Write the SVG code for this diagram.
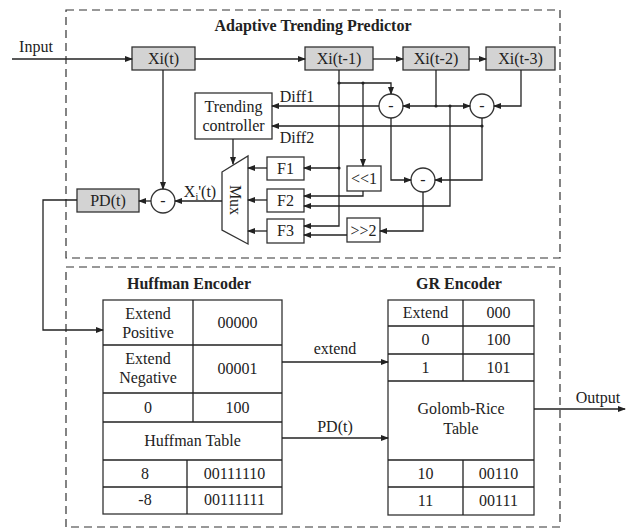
<svg xmlns="http://www.w3.org/2000/svg" width="636" height="529" viewBox="0 0 636 529" font-family="'Liberation Serif', 'Times New Roman', 'DejaVu Serif', serif">
<defs>
<marker id="ah" markerWidth="8" markerHeight="6" refX="7" refY="3" orient="auto" markerUnits="userSpaceOnUse">
<path d="M0,0 L8,3 L0,6 z" fill="#222"/>
</marker>
<style>
text{font-family:'Liberation Serif','Times New Roman','DejaVu Serif',serif}
.t{font-size:16px;fill:#222;text-anchor:middle}
.b{font-weight:bold}
.box{fill:#fff;stroke:#333;stroke-width:1.3}
.g{fill:#d3d3d3;stroke:#333;stroke-width:1.3}
.dash{fill:none;stroke:#333;stroke-width:1.2;stroke-dasharray:8 5}
.ln{fill:none;stroke:#222;stroke-width:1.3}
.ar{fill:none;stroke:#222;stroke-width:1.3;marker-end:url(#ah)}
.dot{fill:#222}
</style>
</defs>
<rect width="636" height="529" fill="#fff"/>
<g id="predictor-frame">
<rect class="dash" x="66" y="10" width="494" height="248"/>
<text class="t b" x="313" y="31">Adaptive Trending Predictor</text>
</g>
<g id="encoder-frame">
<rect class="dash" x="66" y="267" width="494" height="260"/>
</g>
<g id="xt"><rect class="g" x="132" y="47" width="63" height="23"/><text class="t" x="163.5" y="64">Xi(t)</text></g>
<g id="xt1"><rect class="g" x="305" y="47" width="68" height="23"/><text class="t" x="339" y="64">Xi(t-1)</text></g>
<g id="xt2"><rect class="g" x="403" y="47" width="66" height="23"/><text class="t" x="436" y="64">Xi(t-2)</text></g>
<g id="xt3"><rect class="g" x="486" y="47" width="69" height="23"/><text class="t" x="520.5" y="64">Xi(t-3)</text></g>
<g id="sub1"><circle class="box" cx="391" cy="106" r="12"/><text class="t" x="391" y="111">-</text></g>
<g id="sub2"><circle class="box" cx="482" cy="106" r="12"/><text class="t" x="482" y="111">-</text></g>
<g id="sub3"><circle class="box" cx="423" cy="180" r="12"/><text class="t" x="423" y="185">-</text></g>
<g id="sub0"><circle class="box" cx="163" cy="201" r="12"/><text class="t" x="163" y="206">-</text></g>
<g id="controller"><rect class="box" x="195" y="93" width="77" height="46"/><text class="t" x="233.5" y="112">Trending</text><text class="t" x="233.5" y="131">controller</text></g>
<g id="f1"><rect class="box" x="267" y="157" width="37" height="23"/><text class="t" x="285.5" y="174">F1</text></g>
<g id="f2"><rect class="box" x="267" y="189" width="37" height="23"/><text class="t" x="285.5" y="206">F2</text></g>
<g id="f3"><rect class="box" x="267" y="219" width="37" height="24"/><text class="t" x="285.5" y="236">F3</text></g>
<g id="shl"><rect class="box" x="347" y="166" width="34" height="25"/><text class="t" x="364" y="184">&lt;&lt;1</text></g>
<g id="shr"><rect class="box" x="347" y="218" width="33" height="24"/><text class="t" x="363.5" y="236">&gt;&gt;2</text></g>
<g id="mux"><polygon class="box" points="222,172 248,156 248,244 222,230"/><text class="t" font-size="17" transform="translate(230,200) rotate(90)">Mux</text></g>
<g id="pd"><rect class="g" x="77" y="189" width="62" height="23"/><text class="t" x="108" y="206">PD(t)</text></g>
<g id="huffman">
<text class="t b" x="189" y="289">Huffman Encoder</text>
<rect class="box" x="103" y="300" width="179" height="214"/>
<path class="ln" d="M103,345H282M103,393H282M103,422H282M103,460H282M103,487H282M193,300V422M187,460V514"/>
<text class="t" x="148" y="319">Extend</text><text class="t" x="148" y="338">Positive</text>
<text class="t" x="237.5" y="328">00000</text>
<text class="t" x="148" y="364">Extend</text><text class="t" x="148" y="383">Negative</text>
<text class="t" x="237.5" y="374">00001</text>
<text class="t" x="148" y="413">0</text><text class="t" x="237.5" y="413">100</text>
<text class="t" x="192.5" y="446">Huffman Table</text>
<text class="t" x="145" y="479">8</text><text class="t" x="234.5" y="479">00111110</text>
<text class="t" x="145" y="505">-8</text><text class="t" x="234.5" y="505">00111111</text>
</g>
<g id="gr">
<text class="t b" x="459" y="289">GR Encoder</text>
<rect class="box" x="388" y="300" width="146" height="215"/>
<path class="ln" d="M388,326H534M388,354H534M388,381H534M388,460H534M388,487H534M463,300V381M463,460V515"/>
<text class="t" x="425.5" y="318">Extend</text><text class="t" x="498.5" y="318">000</text>
<text class="t" x="425.5" y="345">0</text><text class="t" x="498.5" y="345">100</text>
<text class="t" x="425.5" y="373">1</text><text class="t" x="498.5" y="373">101</text>
<text class="t" x="461" y="414">Golomb-Rice</text><text class="t" x="461" y="434">Table</text>
<text class="t" x="425.5" y="479">10</text><text class="t" x="498.5" y="479">00110</text>
<text class="t" x="425.5" y="506">11</text><text class="t" x="498.5" y="506">00111</text>
</g>
<g id="connectors">
<path class="ar" d="M12,59H132"/>
<path class="ar" d="M195,59H305"/>
<path class="ar" d="M373,59H403"/>
<path class="ar" d="M469,59H486"/>
<path class="ar" d="M339,70V226H304"/>
<path class="ar" d="M339,83H391V94"/>
<path class="ar" d="M363,83V166"/>
<path class="ar" d="M339,168H304"/>
<path class="ln" d="M436,70V106"/>
<path class="ar" d="M436,106H403"/>
<path class="ar" d="M436,106H470"/>
<path class="ar" d="M521,70V106H494"/>
<path class="ar" d="M450,106V206H304"/>
<path class="ar" d="M379,106H272"/>
<path class="ar" d="M482,126H272"/>
<path class="ar" d="M482,118V180H435"/>
<path class="ar" d="M391,118V180H411"/>
<path class="ar" d="M423,192V231H380"/>
<path class="ar" d="M347,235H304"/>
<path class="ar" d="M363,191V196H304"/>
<path class="ar" d="M267,168H248"/>
<path class="ar" d="M267,200H248"/>
<path class="ar" d="M267,231H248"/>
<path class="ar" d="M233,139V164"/>
<path class="ar" d="M222,201H175"/>
<path class="ar" d="M163,70V189"/>
<path class="ar" d="M151,201H139"/>
<path class="ar" d="M77,200H43V330H103"/>
<path class="ar" d="M282,362H388"/>
<path class="ar" d="M282,438H388"/>
<path class="ar" d="M534,409H625"/>
<circle class="dot" cx="339" cy="83" r="1.6"/>
<circle class="dot" cx="363" cy="83" r="1.6"/>
<circle class="dot" cx="436" cy="106" r="1.6"/>
<circle class="dot" cx="450" cy="106" r="1.6"/>
<circle class="dot" cx="482" cy="126" r="1.6"/>
<circle class="dot" cx="339" cy="168" r="1.6"/>
<text class="t" x="36" y="52">Input</text>
<text class="t" x="297" y="102">Diff1</text>
<text class="t" x="297" y="143">Diff2</text>
<text class="t" x="200" y="197">X<tspan font-size="10" dy="3">i</tspan><tspan dy="-3">'(t)</tspan></text>
<text class="t" x="335" y="354">extend</text>
<text class="t" x="335" y="432">PD(t)</text>
<text class="t" x="598" y="403">Output</text>
</g>
</svg>
